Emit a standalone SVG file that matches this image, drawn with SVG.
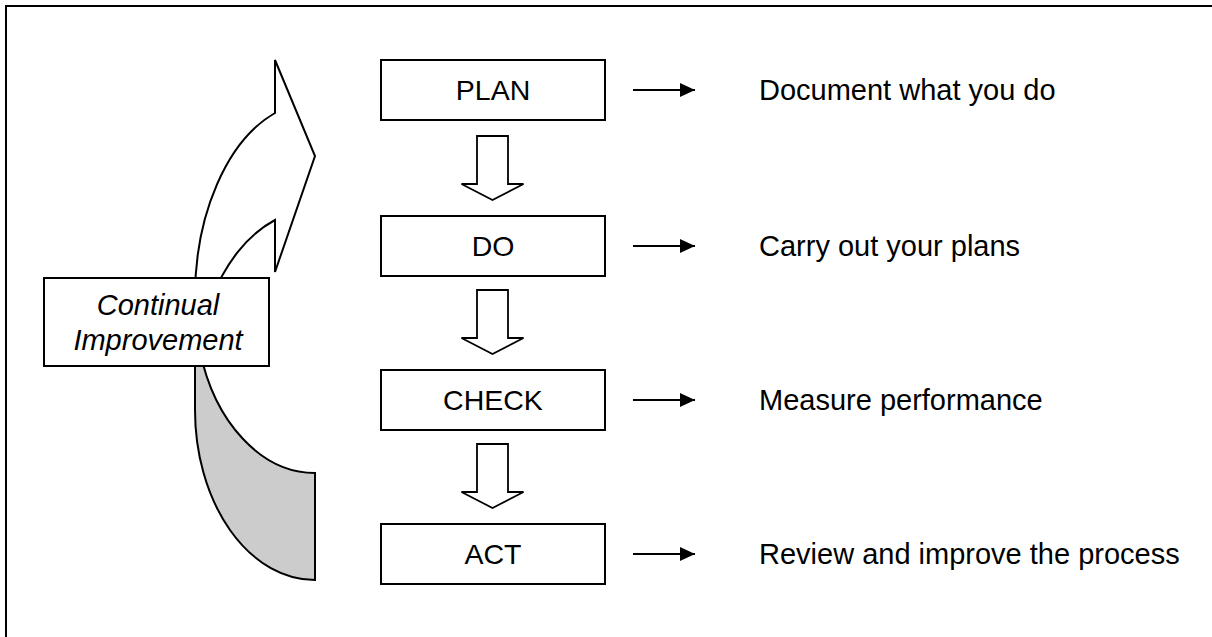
<svg xmlns="http://www.w3.org/2000/svg" width="1212" height="637" viewBox="0 0 1212 637">
  <defs>
    <style>
      .frame { fill: none; stroke: #000; stroke-width: 2; }
      .box { fill: #fff; stroke: #000; stroke-width: 2; }
      .label { font-family: "Liberation Sans", Arial, sans-serif; font-size: 28.5px; fill: #000; text-anchor: middle; }
      .desc { font-family: "Liberation Sans", Arial, sans-serif; font-size: 29px; fill: #000; }
      .ital { font-family: "Liberation Sans", Arial, sans-serif; font-size: 29px; font-style: italic; fill: #000; text-anchor: middle; }
      .block { fill: #fff; stroke: #000; stroke-width: 1.8; stroke-linejoin: miter; }
      .line { stroke: #000; stroke-width: 2; fill: none; }
      .curve-front { fill: #fff; stroke: #000; stroke-width: 2; stroke-linejoin: miter; }
      .curve-back { fill: #cccccc; stroke: #000; stroke-width: 2; }
    </style>
    <marker id="head" markerUnits="userSpaceOnUse" markerWidth="16" markerHeight="16" refX="15" refY="7" orient="auto">
      <path d="M0,0 L15,7 L0,14 Z" fill="#000"/>
    </marker>
    <!-- hollow block arrow pointing down, drawn from its top centre -->
    <path id="down" d="M-15.5,0 H15.5 V48 H31 L0,64 L-31,48 H-15.5 Z"/>
  </defs>

  <!-- page frame -->
  <rect class="frame" x="6" y="6" width="1230" height="660"/>

  <!-- curved feedback arrow -->
  <g id="cycle-arrow">
    <path class="curve-back" d="M315,580 A120,170 0 0 1 195,410 L195,350 L199.7,350 A120,170 0 0 0 315,473 Z"/>
    <path class="curve-front" d="M275,60 L315,156 L275,272 L275,220 A120,181 0 0 0 211,300 L195,297 A120,195 0 0 1 275,113 Z"/>
  </g>

  <g id="continual-improvement">
    <rect class="box" x="44" y="278" width="225" height="88"/>
    <text class="ital" x="158" y="315">Continual</text>
    <text class="ital" x="158" y="350">Improvement</text>
  </g>

  <!-- process steps -->
  <g id="plan">
    <rect class="box" x="381" y="60" width="224" height="60"/>
    <text class="label" x="493" y="100">PLAN</text>
  </g>
  <g id="do">
    <rect class="box" x="381" y="216" width="224" height="60"/>
    <text class="label" x="493" y="256">DO</text>
  </g>
  <g id="check">
    <rect class="box" x="381" y="370" width="224" height="60"/>
    <text class="label" x="493" y="410">CHECK</text>
  </g>
  <g id="act">
    <rect class="box" x="381" y="524" width="224" height="60"/>
    <text class="label" x="493" y="564">ACT</text>
  </g>

  <!-- descriptions -->
  <g id="desc-plan"><text class="desc" x="759" y="100">Document what you do</text></g>
  <g id="desc-do"><text class="desc" x="759" y="256">Carry out your plans</text></g>
  <g id="desc-check"><text class="desc" x="759" y="410">Measure performance</text></g>
  <g id="desc-act"><text class="desc" x="759" y="564">Review and improve the process</text></g>

  <!-- connectors -->
  <g id="connectors">
    <use href="#down" class="block" x="492.5" y="136"/>
    <use href="#down" class="block" x="492.5" y="290"/>
    <use href="#down" class="block" x="492.5" y="444"/>
    <line class="line" x1="633" y1="90" x2="695" y2="90" marker-end="url(#head)"/>
    <line class="line" x1="633" y1="246" x2="695" y2="246" marker-end="url(#head)"/>
    <line class="line" x1="633" y1="400" x2="695" y2="400" marker-end="url(#head)"/>
    <line class="line" x1="633" y1="554" x2="695" y2="554" marker-end="url(#head)"/>
  </g>
</svg>
